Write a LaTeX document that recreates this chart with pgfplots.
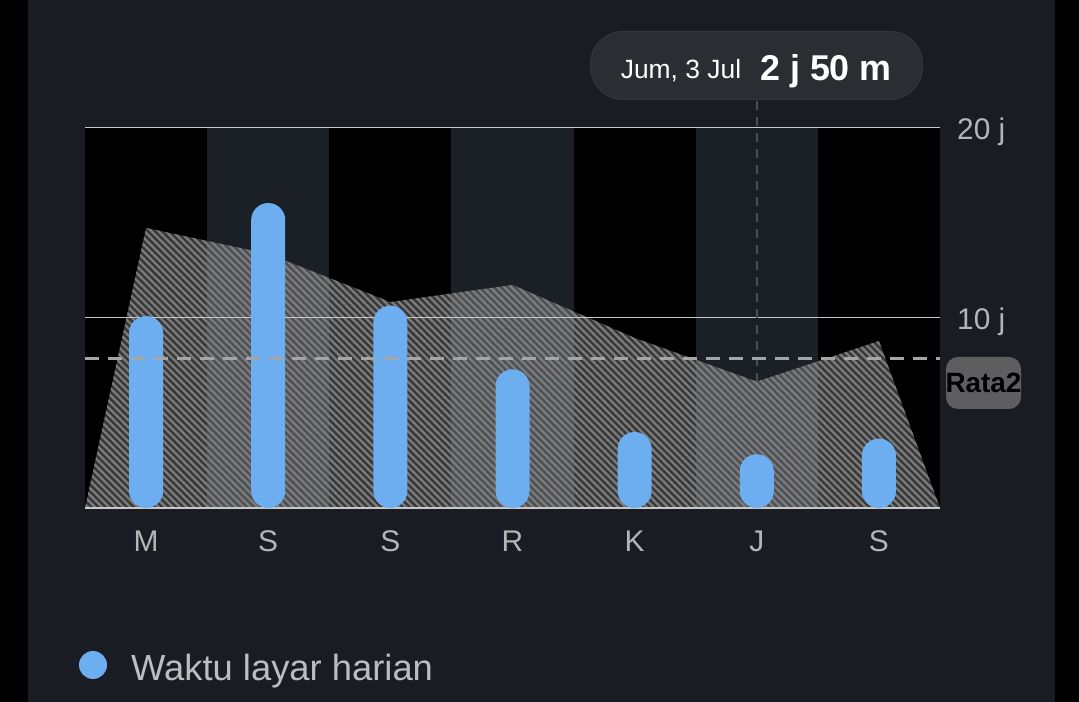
\documentclass[border=0pt]{standalone}
\usepackage{pgfplots}
\pgfplotsset{compat=1.18}
\usepackage{fontspec}
\setmainfont{Liberation Sans}
\usetikzlibrary{patterns.meta}
\definecolor{bg}{HTML}{191C22}
\definecolor{colgray}{HTML}{1B1F26}
\definecolor{barc}{HTML}{6DAEF0}
\definecolor{gridc}{HTML}{C8C8C8}
\definecolor{avgc}{HTML}{A6A6A6}
\definecolor{tickc}{HTML}{B5B5B8}
\definecolor{legc}{HTML}{BDBDC1}
\definecolor{ratac}{HTML}{5E5E61}
\definecolor{tipc}{HTML}{2A2D32}
\definecolor{tipb}{HTML}{34373C}
\definecolor{vlc}{HTML}{4A4D52}
\definecolor{stripe}{HTML}{7C7C7C}
\begin{document}
\begin{tikzpicture}
\fill[bg] (0,0) rectangle (1079bp,702bp);
\useasboundingbox (0,0) rectangle (1079bp,702bp);
\fill[black] (0,0) rectangle (28bp,702bp);
\fill[black] (1055bp,0) rectangle (1079bp,702bp);
\begin{axis}[
  at={(85bp,194bp)}, anchor=south west,
  scale only axis, width=855bp, height=380bp,
  xmin=-0.5, xmax=6.5, ymin=0, ymax=20,
  clip=false,
  axis line style={draw=none}, tick style={draw=none},
  xtick={0,1,2,3,4,5,6}, xticklabels={M,S,S,R,K,J,S},
  ytick={10,20}, yticklabels={10 j,20 j},
  yticklabel pos=right,
  ticklabel style={font=\fontsize{30}{34}\selectfont, text=tickc},
  xticklabel style={anchor=base, inner sep=0pt, yshift=-44bp},
  yticklabel style={anchor=base west, inner sep=0pt, xshift=17bp, yshift=-12bp},
]
% column backgrounds
\fill[black] (axis cs:-0.5,0) rectangle (axis cs:0.5,20);
\fill[colgray] (axis cs:0.5,0) rectangle (axis cs:1.5,20);
\fill[black] (axis cs:1.5,0) rectangle (axis cs:2.5,20);
\fill[colgray] (axis cs:2.5,0) rectangle (axis cs:3.5,20);
\fill[black] (axis cs:3.5,0) rectangle (axis cs:4.5,20);
\fill[colgray] (axis cs:4.5,0) rectangle (axis cs:5.5,20);
\fill[black] (axis cs:5.5,0) rectangle (axis cs:6.5,20);
% hatched area
\addplot[draw=none, fill=white, fill opacity=0.22] coordinates {
 (-0.5,0) (0,14.74) (1,13.37) (2,10.84) (3,11.74) (4,8.95) (5,6.65) (6,8.79) (6.5,0)} -- cycle;
\addplot[draw=none, pattern={Lines[angle=-45, distance=5bp, line width=2.3bp]}, pattern color=stripe] coordinates {
 (-0.5,0) (0,14.74) (1,13.37) (2,10.84) (3,11.74) (4,8.95) (5,6.65) (6,8.79) (6.5,0)} -- cycle;
% grid lines
\draw[gridc, line width=1bp] (axis cs:-0.5,20) -- (axis cs:6.5,20);
\draw[gridc, line width=1bp] (axis cs:-0.5,10) -- (axis cs:6.5,10);
\draw[gridc, line width=1.5bp] (axis cs:-0.5,0) -- (axis cs:6.5,0);
% tooltip guide
\draw[vlc, line width=2.2bp, dash pattern=on 9bp off 7bp] (axis cs:5,6.65) -- (axis cs:5,21.5);
% bars
\addplot[ybar, bar width=34bp, fill=barc, draw=none, rounded corners=16.9bp] coordinates {
 (0,10.1) (1,16.05) (2,10.65) (3,7.3) (4,4.0) (5,2.83) (6,3.65)};
% average
\draw[avgc, line width=3bp, dash pattern=on 14bp off 9bp] (axis cs:-0.5,7.89) -- (axis cs:6.5,7.89);
\end{axis}
% average label
\fill[ratac, rounded corners=12bp] (946bp,293bp) rectangle (1021bp,345bp);
\node[anchor=base, inner sep=0pt, text=black, font=\fontsize{28}{32}\selectfont\bfseries] at (983.5bp,309bp) {Rata2};
% tooltip
\fill[tipb, rounded corners=33bp] (590bp,602bp) rectangle (923bp,671bp);
\fill[tipc, rounded corners=32bp] (591bp,603bp) rectangle (922bp,670bp);
\node[anchor=base, inner sep=0pt, text=white, font=\fontsize{26.5}{30}\selectfont] at (681bp,623bp) {Jum, 3 Jul};
\node[anchor=base, inner sep=0pt, text=white, font=\fontsize{36}{40}\selectfont\bfseries] at (826bp,621bp) {2 j 50 m};
% legend
\fill[barc] (93bp,37bp) circle (14bp);
\node[anchor=base west, inner sep=0pt, text=legc, font=\fontsize{36.5}{40}\selectfont] at (131bp,22bp) {Waktu layar harian};
\end{tikzpicture}
\end{document}
